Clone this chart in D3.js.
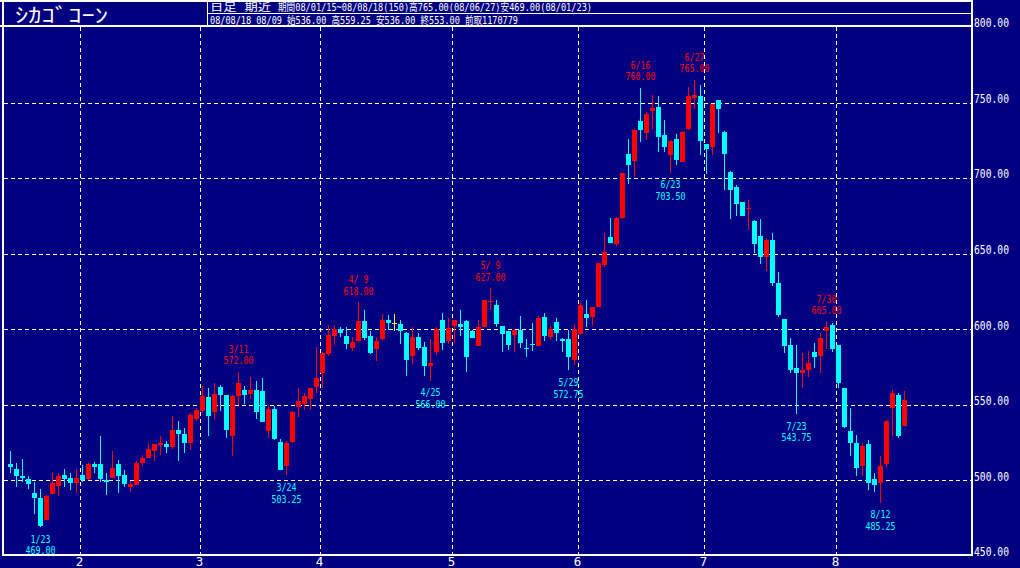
<!DOCTYPE html>
<html><head><meta charset="utf-8">
<script src="https://cdn.jsdelivr.net/npm/d3@7"></script>
<style>
body{margin:0;background:#000080;}
svg{display:block;}
</style>
</head><body>
<svg id="c" width="1020" height="568"></svg>
<script>
// ---- trading days (categories) ----
const jan=[15,16,17,18,22,23,24,25,28,29,30,31];
const feb=[1,4,5,6,7,8,11,12,13,14,15,19,20,21,22,25,26,27,28,29];
const mar=[3,4,5,6,7,10,11,12,13,14,17,18,19,20,24,25,26,27,28,31];
const apr=[1,2,3,4,7,8,9,10,11,14,15,16,17,18,21,22,23,24,25,28,29,30];
const may=[1,2,5,6,7,8,9,12,13,14,15,16,19,20,21,22,23,27,28,29,30];
const jun=[2,3,4,5,6,9,10,11,12,13,16,17,18,19,20,23,24,25,26,27,30];
const jul=[1,2,3,7,8,9,10,11,14,15,16,17,18,21,22,23,24,25,28,29,30,31];
const aug=[1,4,5,6,7,8,11,12,13,14,15,18];
const months=[jan,feb,mar,apr,may,jun,jul,aug];

// ---- OHLC series ----
const open=[511,507.25,503,500.75,491.75,488.5,473.75,491,496.5,503.5,501.75,498,
503.5,500.75,510.5,510.5,500.25,501.75,510.75,503.5,495.75,497,511.75,514.5,519.5,523.5,524,521.75,533.25,530.5,525,540.5,
546,555.25,545.5,562,556.5,529.25,555.75,559.75,557,559.75,559,532.75,547.25,525.5,509.5,525.5,548.25,550.25,553.5,561.5,
570.75,583.5,595.5,600.25,595.5,587.75,592.5,605.5,595.5,587,593.25,606,604.25,603.5,597.75,582.25,594.75,588.5,575.75,585,606,592.5,
602,603.5,605.5,599,589,601.75,617.75,616,602,598.5,596.25,599.5,587.5,590.25,589,608,594.75,604.5,593.25,593.25,579.5,
596.75,610,608.25,615,642.75,661,656.5,673.5,716,711.5,738,730,744.5,747,728.5,715,726,711,732.25,753.25,754.5,
722.5,720.5,751.75,730.5,704,694,684.25,679.5,671.5,661.75,647.5,659,630.75,606.75,589.5,574.25,571.25,573,585,582.25,598.5,602.75,
589.5,561,532.5,524.5,509.75,524,501,498,510.75,548,556.5,536];
const high=[519.5,511.5,514,503,498.75,494,490,505,504.75,507.5,504.5,507.25,
510,511.5,512,529.25,505,519.5,513.5,506.75,499.5,512.75,516.75,525,524.25,529.25,526.25,542.5,539.25,534.5,544.25,547.75,
562.5,561,564.5,563,556.5,556.5,572,562.5,568.5,565.75,567.5,549.75,549.25,527,526.25,545.75,561,558,561.25,588.25,
585,602.75,602.75,601.75,601.25,594.75,618,612.75,598.5,594.75,610,609.5,610,606,598,601.25,597.25,591.75,593.25,601.25,611,607.25,
606.25,612.75,606,599.25,606,619.5,627,619.25,602.25,598.5,600,608.75,593.25,604,608.75,611,602,607.25,594,599.5,603.5,
618.25,619.25,614.75,644,663.75,673.5,674.5,703.5,725.75,732.25,760,744,755,754.5,738.5,725,729.25,731.5,760.5,765,761.75,
722.75,749.25,752,731,704.5,695.5,684.5,685.5,672,672.75,660.25,663.5,638,607,594,589.5,584.5,585.75,591,597.25,605,604,
589.75,561.25,548,530,524.5,526.75,504.5,516,539.75,559.75,557.5,559.25];
const low=[505,495.75,499,494.25,477.75,469,473.5,491,489.75,495.75,493.5,491.75,
499,500,504.5,499,490.25,501.5,491.5,495.75,492.5,496.75,509.75,514.5,513,516.5,518,520.5,513,518.25,520,539.5,
544.25,529.25,540,546,527.75,516.25,549.75,550.5,553.5,540.5,538.5,527.75,526.75,506.5,503.25,524.5,541.75,546.5,546.5,558,
561,582.25,589.5,595,587,585.5,591.75,593,583.5,579.25,593,599.5,598.5,590.25,569,577,586.25,569,566,583,586.25,590.25,
591,595.5,572,594.25,589,601.5,612.75,601.25,585,586.25,585,587.5,581.75,585.75,589,592.5,593.25,592.5,585,572.75,576.25,
596.25,601.75,602,614.5,641.5,657.25,655.25,673,696,700.5,724,725.25,732.5,717.5,717.5,703.5,708.75,710.5,732,745.5,715.25,
702.75,715,729.75,692.25,672.75,675,674.75,665.75,650.25,643.5,638.5,628.5,608.25,584,571.25,543.75,561.25,568.5,574,570.75,586.75,585,
561,534.75,516.25,502.5,503,493.5,492.5,485.25,509,529.25,527.75,536];
const close=[509,502.5,501.5,497.5,488.5,470,489.5,498.5,502.5,501,498.5,501.75,
500.25,510.75,509,500.75,499,508.25,502.75,497.5,497.5,511.25,515,520.5,524,524.5,522.25,533.25,530.5,525,543.25,546.5,
555.75,542.5,557,556.5,533.25,555.75,564.5,556.5,559.75,545.5,538.75,547.25,527,506.75,524.5,545.5,552.75,555.75,561,568,
584,596.25,600.25,597.75,590,591.5,605.5,594.5,584,592.5,606,604,604.25,599,579.5,594.75,587.5,575.75,577.75,600.25,591,600.5,
606,601.25,581.75,594.5,601.25,619.25,619,603.5,596.75,589.5,599.5,591,587.25,590,607.25,595.5,600,597.75,592.5,581.75,600,
616,607.5,614.5,643.75,651,657.25,673.5,703.25,708.75,732,732,742.5,746.5,727.5,720.75,724.5,712,730.75,754.5,755,724.5,
719.25,749,746,716,692.25,683,675,680,656.5,648,659,630.75,609.5,589,573,571.25,573.25,577.75,581.75,594.5,601.75,587,
564.5,535.5,525,508,523,498.5,497,509.5,539.5,557.5,529.25,553];

// ---- tick labels ----
const priceTicks=[450,500,550,600,650,700,750,800];
const monthLabels=["2","3","4","5","6","7","8"];
// ---- annotated extremes ----
const marks=[["1/23","low"],["3/11","high"],["3/24","low"],["4/9","high"],["4/25","low"],["5/9","high"],
["5/29","low"],["6/16","high"],["6/23","low"],["6/27","high"],["7/23","low"],["7/30","high"],["8/12","low"]];
// ---- header texts ----
const titleText="ｼｶｺﾞｺｰﾝ";
const head1a="日足 期近";
const head1b="期間08/01/15~08/08/18(150)高765.00(08/06/27)安469.00(08/01/23)";
const head2="08/08/18 08/09 始536.00 高559.25 安536.00 終553.00 前取1170779";

// build date list
const dates=[]; const monthStart=[];
months.forEach((arr,m)=>{ monthStart.push(dates.length); arr.forEach(d=>dates.push({m:m+1,d:d})); });
const data=dates.map((dt,i)=>({i,dt,o:open[i],h:high[i],l:low[i],c:close[i]}));

const svg=d3.select("#c");
const W=1020,H=568;
const x=d3.scaleLinear().domain([0,149]).range([10.5,904.5]);
const y=d3.scaleLinear().domain([450,800]).range([555.8,27.1]);

svg.append("rect").attr("width",W).attr("height",H).attr("fill","#000080");

const mono="'DejaVu Sans Mono', 'Liberation Mono', monospace";
const hdr="'DejaVu Sans Mono', 'Noto Sans CJK JP', monospace";
const jp="'Noto Sans CJK JP', 'Noto Sans CJK SC', sans-serif";

// grid
const g=svg.append("g").attr("shape-rendering","crispEdges");
g.selectAll("line.h").data(priceTicks.filter(v=>v>450&&v<800)).enter().append("line")
 .attr("x1",4).attr("x2",971).attr("y1",v=>Math.round(y(v))+0.5).attr("y2",v=>Math.round(y(v))+0.5)
 .attr("stroke","#fff").attr("stroke-width",1).attr("stroke-dasharray","4,3");
const vx=monthStart.slice(1).map(s=>Math.round(x(s)-3)+0.5);
g.selectAll("line.v").data(vx).enter().append("line")
 .attr("x1",d=>d).attr("x2",d=>d).attr("y1",27).attr("y2",554)
 .attr("stroke","#fff").attr("stroke-width",1).attr("stroke-dasharray","4,3");

// candles
const col=d=>d.c>d.o?"#ff0000":(d.c<d.o?"#00ffff":"#ffff00");
const cg=svg.append("g").attr("shape-rendering","crispEdges");
const cs=cg.selectAll("g").data(data).enter().append("g");
cs.append("line").attr("x1",d=>Math.floor(x(d.i))+0.5).attr("x2",d=>Math.floor(x(d.i))+0.5)
 .attr("y1",d=>y(d.h)).attr("y2",d=>y(d.l)).attr("stroke",col).attr("stroke-width",1);
cs.append("rect").attr("x",d=>Math.floor(x(d.i))-2).attr("width",5)
 .attr("y",d=>y(Math.max(d.o,d.c))).attr("height",d=>Math.max(1,Math.abs(y(d.o)-y(d.c))))
 .attr("fill",col);

// frame
const fr=svg.append("g").attr("fill","#fff").attr("shape-rendering","crispEdges");
fr.append("rect").attr("x",0).attr("y",0).attr("width",973).attr("height",1.5);
fr.append("rect").attr("x",0).attr("y",25).attr("width",973).attr("height",2);
fr.append("rect").attr("x",207).attr("y",12.5).attr("width",766).attr("height",1.2);
fr.append("rect").attr("x",206.5).attr("y",0).attr("width",1.2).attr("height",26);
fr.append("rect").attr("x",1.5).attr("y",0).attr("width",2).attr("height",556);
fr.append("rect").attr("x",971).attr("y",0).attr("width",2).attr("height",556);
fr.append("rect").attr("x",1.5).attr("y",554).attr("width",971.5).attr("height",2);

// right axis labels
svg.append("g").selectAll("text").data(priceTicks).enter().append("text")
 .attr("x",974).attr("y",v=>y(v)+0.3).attr("fill","#fff").attr("font-family",mono).attr("font-size",12.5)
 .attr("textLength",35).attr("lengthAdjust","spacingAndGlyphs").text(v=>v.toFixed(2));

// month labels
svg.append("g").selectAll("text").data(monthLabels).enter().append("text")
 .attr("x",(d,k)=>vx[k]-1).attr("y",565.5).attr("text-anchor","middle").attr("fill","#fff")
 .attr("font-family",mono).attr("font-size",12.5).text(d=>d);

// annotations
const fmtDate=dt=>dt.m+"/"+(dt.d<10?" "+dt.d:dt.d);
const ann=svg.append("g").attr("font-family",mono).attr("font-size",10.5).attr("text-anchor","middle")
 .style("white-space","pre");
marks.forEach(([key,kind])=>{
  const d=data.find(e=>(e.dt.m+"/"+e.dt.d)===key);
  const v=kind==="high"?d.h:d.l;
  const yy=y(v);
  const c=kind==="high"?"#ff0000":"#00ffff";
  const t1=fmtDate(d.dt), t2=v.toFixed(2);
  const yd=kind==="high"?yy-19:yy+15.5;
  const yv=kind==="high"?yy-7.5:yy+27.3;
  ann.append("text").attr("x",x(d.i)).attr("y",yd).attr("fill",c)
    .attr("textLength",t1.length*5).attr("lengthAdjust","spacingAndGlyphs").text(t1);
  ann.append("text").attr("x",x(d.i)).attr("y",yv).attr("fill",c)
    .attr("textLength",t2.length*5).attr("lengthAdjust","spacingAndGlyphs").text(t2);
});

// header texts
svg.append("text").attr("x",15).attr("y",23).attr("fill","#fff").attr("font-family",jp).attr("font-size",20)
 .attr("textLength",93).attr("lengthAdjust","spacingAndGlyphs").text(titleText);
svg.append("text").attr("x",210).attr("y",11).attr("fill","#fff").attr("font-family",hdr).attr("font-size",10.5)
 .attr("textLength",61).attr("lengthAdjust","spacingAndGlyphs").style("white-space","pre").text(head1a);
svg.append("text").attr("x",278).attr("y",11).attr("fill","#fff").attr("font-family",hdr).attr("font-size",10.5)
 .attr("textLength",314).attr("lengthAdjust","spacingAndGlyphs").text(head1b);
svg.append("text").attr("x",210).attr("y",24).attr("fill","#fff").attr("font-family",hdr).attr("font-size",10.5)
 .attr("textLength",308).attr("lengthAdjust","spacingAndGlyphs").style("white-space","pre").text(head2);
</script>
</body></html>
